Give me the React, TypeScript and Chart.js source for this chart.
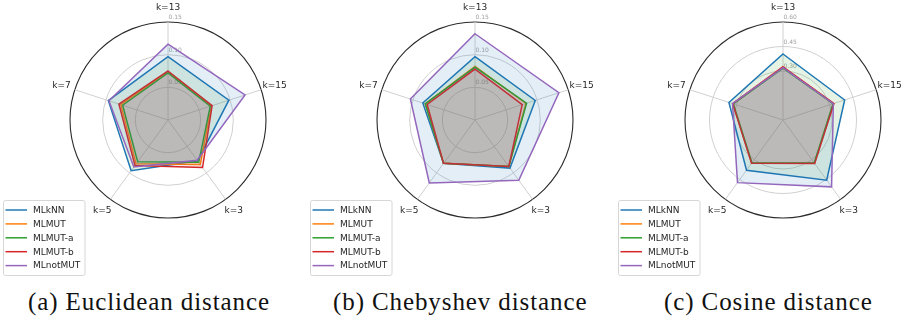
import React, { useEffect, useRef } from "react";
import { Chart, registerables } from "chart.js";

Chart.register(...registerables);

// ---- data ----
const categories = ["k=13", "k=15", "k=3", "k=5", "k=7"];
const seriesNames = ["MLkNN", "MLMUT", "MLMUT-a", "MLMUT-b", "MLnotMUT"];

// (a) Euclidean distance
const euclidMLkNN = [0.097, 0.098, 0.077, 0.096, 0.096];
const euclidMLMUT = [0.074, 0.070, 0.084, 0.083, 0.076];
const euclidMLMUTa = [0.072, 0.068, 0.080, 0.079, 0.073];
const euclidMLMUTb = [0.075, 0.071, 0.090, 0.086, 0.079];
const euclidMLnotMUT = [0.116, 0.124, 0.076, 0.089, 0.095];
const euclidTicks = [0, 0.05, 0.1, 0.15];

// (b) Chebyshev distance
const chebMLkNN = [0.097, 0.097, 0.091, 0.082, 0.084];
const chebMLMUT = [0.082, 0.082, 0.088, 0.082, 0.080];
const chebMLMUTa = [0.081, 0.083, 0.088, 0.082, 0.080];
const chebMLMUTb = [0.078, 0.076, 0.088, 0.082, 0.077];
const chebMLnotMUT = [0.132, 0.135, 0.114, 0.119, 0.104];
const chebTicks = [0, 0.05, 0.1, 0.15];

// (c) Cosine distance
const cosMLkNN = [0.404, 0.397, 0.455, 0.380, 0.348];
const cosMLMUT = [0.322, 0.325, 0.327, 0.326, 0.322];
const cosMLMUTa = [0.318, 0.322, 0.325, 0.324, 0.320];
const cosMLMUTb = [0.326, 0.328, 0.330, 0.328, 0.324];
const cosMLnotMUT = [0.320, 0.324, 0.506, 0.474, 0.325];
const cosTicks = [0, 0.3, 0.45, 0.6];

const captions = ["(a) Euclidean distance", "(b) Chebyshev distance", "(c) Cosine distance"];

// ---- styles ----
const lineColors = ["#1f77b4", "#ff7f0e", "#2ca02c", "#d62728", "#9467bd"];
const fillColors = [
  "rgba(44,160,44,0.12)",
  "rgba(165,80,80,0.11)",
  "rgba(165,80,80,0.11)",
  "rgba(165,80,80,0.11)",
  "rgba(31,119,180,0.12)",
];

const panels = [
  { left: 0, series: [euclidMLkNN, euclidMLMUT, euclidMLMUTa, euclidMLMUTb, euclidMLnotMUT], ticks: euclidTicks, captionLeft: 28 },
  { left: 307, series: [chebMLkNN, chebMLMUT, chebMLMUTa, chebMLMUTb, chebMLnotMUT], ticks: chebTicks, captionLeft: 333 },
  { left: 615, series: [cosMLkNN, cosMLMUT, cosMLMUTa, cosMLMUTb, cosMLnotMUT], ticks: cosTicks, captionLeft: 664 },
];

const CW = 288;
const CH = 280;
const FONT = '"DejaVu Sans", sans-serif';

const decorPlugin = {
  id: "radarDecor",
  beforeDatasetsDraw(chart: any) {
    const s = chart.scales.r;
    const ctx = chart.ctx;
    ctx.save();
    ctx.font = `6px ${FONT}`;
    ctx.fillStyle = "#a0a0a0";
    ctx.textAlign = "left";
    ctx.textBaseline = "middle";
    s.ticks.forEach((t: any, i: number) => {
      if (i === 0) return;
      const r = s.getDistanceFromCenterForValue(t.value);
      ctx.fillText(t.label, s.xCenter + 0.5, s.yCenter - r - 4.5);
    });
    ctx.restore();
  },
  afterDraw(chart: any) {
    const s = chart.scales.r;
    const ctx = chart.ctx;
    ctx.save();
    // point labels
    ctx.font = `9px ${FONT}`;
    ctx.fillStyle = "#262626";
    ctx.textAlign = "center";
    ctx.textBaseline = "middle";
    chart.data.labels.forEach((lab: string, i: number) => {
      const p = s.getPointPosition(i, s.drawingArea + 14);
      ctx.fillText(lab, p.x, p.y);
    });
    // legend
    const fx = 3.5, fy = 200.5, fw = 81.5, fh = 75;
    ctx.beginPath();
    ctx.roundRect(fx, fy, fw, fh, 2);
    ctx.fillStyle = "rgba(255,255,255,0.8)";
    ctx.fill();
    ctx.strokeStyle = "#d6d6d6";
    ctx.lineWidth = 1;
    ctx.stroke();
    ctx.font = `9px ${FONT}`;
    ctx.textAlign = "left";
    ctx.textBaseline = "middle";
    chart.data.datasets.forEach((ds: any, i: number) => {
      const y = 210 + i * 13.9;
      ctx.beginPath();
      ctx.moveTo(5.5, y);
      ctx.lineTo(27, y);
      ctx.strokeStyle = ds.borderColor;
      ctx.lineWidth = 1.5;
      ctx.stroke();
      ctx.fillStyle = "#262626";
      ctx.fillText(ds.label, 33, y + 0.5);
    });
    ctx.restore();
  },
};

function RadarPanel({ series, ticks }: { series: number[][]; ticks: number[] }) {
  const ref = useRef<HTMLCanvasElement | null>(null);
  useEffect(() => {
    if (!ref.current) return;
    const max = ticks[ticks.length - 1];
    const chart = new Chart(ref.current, {
      type: "radar",
      data: {
        labels: categories,
        datasets: seriesNames.map((name, i) => ({
          label: name,
          data: series[i],
          borderColor: lineColors[i],
          backgroundColor: fillColors[i],
          borderWidth: 1.5,
          fill: true,
          pointRadius: 0,
          order: seriesNames.length - i,
        })),
      },
      options: {
        responsive: false,
        animation: false,
        events: [],
        layout: { padding: { left: 70, right: CW - 266, top: 22, bottom: CH - 218 } },
        plugins: { legend: { display: false }, tooltip: { enabled: false } },
        elements: { line: { tension: 0 } },
        scales: {
          r: {
            min: 0,
            max,
            afterBuildTicks: (scale: any) => {
              scale.ticks = ticks.map((v) => ({ value: v }));
            },
            ticks: { display: false, callback: (v: any) => Number(v).toFixed(2) },
            pointLabels: { display: false },
            grid: {
              circular: true,
              color: (c: any) => (c.tick && Math.abs(c.tick.value - max) < 1e-9 ? "#2b2b2b" : "#d0d0d0"),
              lineWidth: (c: any) => (c.tick && Math.abs(c.tick.value - max) < 1e-9 ? 1.1 : 1),
            },
            angleLines: { display: true, color: "#d0d0d0", lineWidth: 1 },
          },
        },
      },
      plugins: [decorPlugin],
    } as any);
    return () => chart.destroy();
  }, [series, ticks]);
  return <canvas ref={ref} width={CW} height={CH} style={{ width: CW, height: CH, display: "block" }} />;
}

export default function App() {
  return (
    <div
      style={{
        position: "fixed",
        left: 0,
        top: 0,
        width: 904,
        height: 320,
        background: "#fff",
        overflow: "hidden",
      }}
    >
      {panels.map((p, i) => (
        <div key={i} style={{ position: "absolute", left: p.left, top: 0, width: CW, height: CH }}>
          <RadarPanel series={p.series} ticks={p.ticks} />
        </div>
      ))}
      {panels.map((p, i) => (
        <div
          key={"c" + i}
          style={{
            position: "absolute",
            left: p.captionLeft,
            top: 290,
            fontFamily: '"Liberation Serif", serif',
            fontSize: 25,
            lineHeight: "24px",
            letterSpacing: "0.9px",
            whiteSpace: "nowrap",
            color: "#111",
          }}
        >
          {captions[i]}
        </div>
      ))}
    </div>
  );
}
